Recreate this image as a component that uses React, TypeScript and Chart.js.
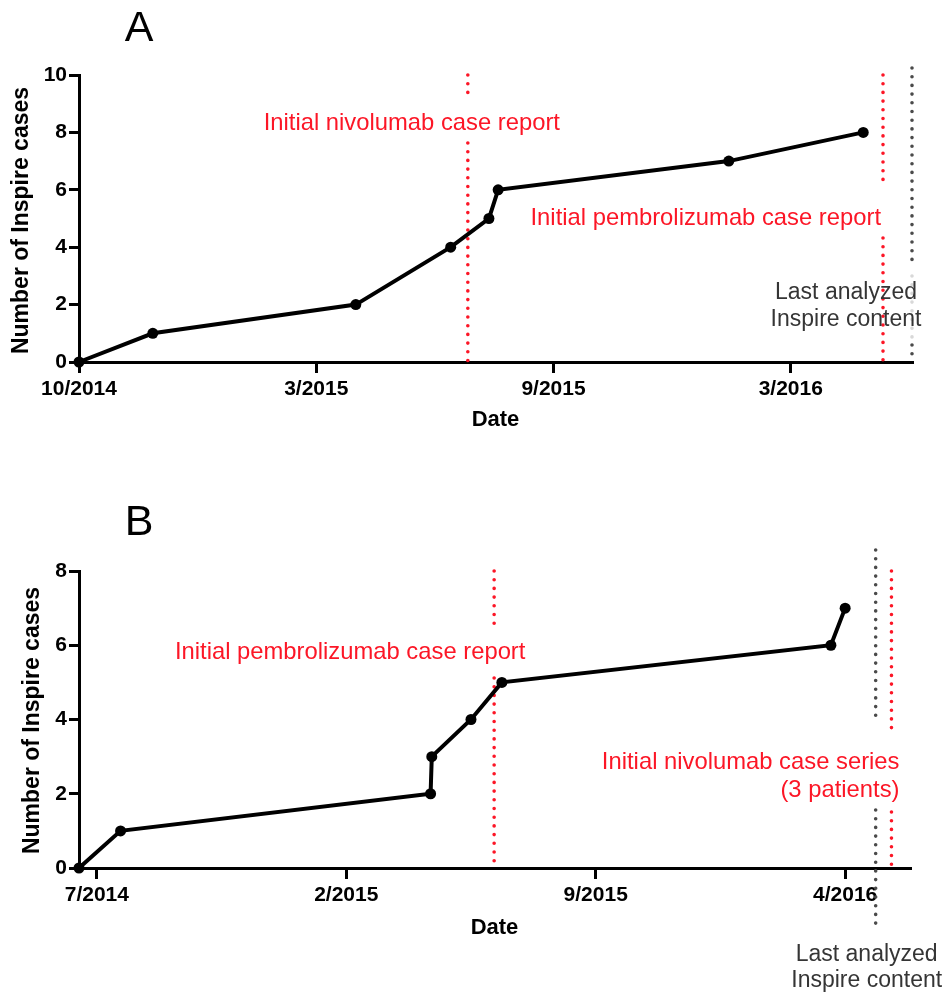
import React, { useEffect, useRef } from "react";
import { Chart, registerables } from "chart.js";

Chart.register(...registerables);

// ---------- Panel A data ----------
const aDays = [0, 56, 210, 282, 311, 318, 493, 595];
const aCases = [0, 1, 2, 4, 5, 6, 7, 8];
const aTickDays = [0, 180, 360, 540];
const aTickLabels = ["10/2014", "3/2015", "9/2015", "3/2016"];
const aNivoReportDay = 295;
const aPembroReportDay = 610;
const aLastContentDay = 632;

// ---------- Panel B data ----------
const bDays = [-15, 20, 281, 282, 315, 341, 618, 630];
const bCases = [0, 1, 2, 3, 4, 5, 6, 7];
const bTickDays = [0, 210, 420, 630];
const bTickLabels = ["7/2014", "2/2015", "9/2015", "4/2016"];
const bPembroReportDay = 334.5;
const bLastContentDay = 655.7;
const bNivoSeriesDay = 669;

const FONT = "'Liberation Sans', Arial, Helvetica, sans-serif";
const RED = "rgb(252,22,38)";
const GRAY = "#353535";
const DOTGRAY = "#4a4a4a";
const W = 947;

function dotted(ctx: CanvasRenderingContext2D, x: number, y1: number, y2: number, color: string) {
  ctx.save();
  ctx.strokeStyle = color;
  ctx.lineWidth = 3.6;
  ctx.lineCap = "round";
  ctx.setLineDash([0, 8.7]);
  ctx.beginPath();
  ctx.moveTo(x, y1);
  ctx.lineTo(x, y2);
  ctx.stroke();
  ctx.restore();
}

function txt(
  ctx: CanvasRenderingContext2D,
  s: string,
  x: number,
  y: number,
  font: string,
  color: string,
  align: CanvasTextAlign = "center",
  rotate = 0
) {
  ctx.save();
  ctx.font = font;
  ctx.fillStyle = color;
  ctx.textAlign = align;
  ctx.textBaseline = "middle";
  ctx.translate(x, y);
  if (rotate) ctx.rotate(rotate);
  ctx.fillText(s, 0, 0);
  ctx.restore();
}

function baseOptions(opts: {
  H: number;
  top: number;
  bottom: number;
  right: number;
  xMin: number;
  xMax: number;
  yMax: number;
  tickDays: number[];
  tickLabels: string[];
}): any {
  return {
    responsive: false,
    animation: false,
    devicePixelRatio: 1,
    layout: { padding: { left: 0, top: opts.top, right: W - opts.right, bottom: 0 } },
    plugins: { legend: { display: false }, tooltip: { enabled: false }, title: { display: false } },
    scales: {
      x: {
        type: "linear",
        min: opts.xMin,
        max: opts.xMax,
        afterFit: (s: any) => {
          s.height = opts.H - opts.bottom;
        },
        afterBuildTicks: (s: any) => {
          s.ticks = opts.tickDays.map((v) => ({ value: v }));
        },
        ticks: {
          callback: (_v: any, i: number) => opts.tickLabels[i] ?? "",
          font: { family: FONT, size: 21, weight: "bold" },
          color: "#000",
          maxRotation: 0,
          autoSkip: false,
          padding: 4,
        },
        grid: {
          display: true,
          drawOnChartArea: false,
          drawTicks: true,
          tickLength: 11,
          lineWidth: 3,
          color: "#000",
        },
        border: { display: true, width: 3, color: "#000" },
      },
      y: {
        min: 0,
        max: opts.yMax,
        afterFit: (s: any) => {
          s.width = 79;
        },
        ticks: {
          stepSize: 2,
          font: { family: FONT, size: 21, weight: "bold" },
          color: "#000",
          padding: 2,
        },
        grid: {
          display: true,
          drawOnChartArea: false,
          drawTicks: true,
          tickLength: 10,
          lineWidth: 3,
          color: "#000",
        },
        border: { display: true, width: 3, color: "#000" },
      },
    },
  };
}

function lineDataset(days: number[], cases: number[]) {
  return {
    data: days.map((d, i) => ({ x: d, y: cases[i] })),
    borderColor: "#000",
    borderWidth: 4,
    pointRadius: 5.5,
    pointBackgroundColor: "#000",
    pointBorderColor: "#000",
    pointBorderWidth: 0,
    tension: 0,
    clip: false,
  };
}

function PanelA() {
  const ref = useRef<HTMLCanvasElement>(null);
  useEffect(() => {
    const H = 460;
    const top = 75;
    const bottom = 362;
    const annot = {
      id: "annotA",
      beforeDatasetsDraw(chart: any) {
        const { ctx, chartArea, scales } = chart;
        const t = chartArea.top;
        const b = chartArea.bottom;
        const nx = scales.x.getPixelForValue(aNivoReportDay);
        dotted(ctx, nx, t, t + 20, RED);
        dotted(ctx, nx, t + 68, b, RED);
        const px = scales.x.getPixelForValue(aPembroReportDay);
        dotted(ctx, px, t, t + 113, RED);
        dotted(ctx, px, t + 163, b, RED);
        const gx = scales.x.getPixelForValue(aLastContentDay);
        dotted(ctx, gx, t - 7, t + 193, DOTGRAY);
        dotted(ctx, gx, t + 201, t + 262, "#d8d8d8");
        dotted(ctx, gx, t + 270, b, DOTGRAY);
      },
      afterDraw(chart: any) {
        const { ctx, chartArea, scales } = chart;
        const t = chartArea.top;
        const b = chartArea.bottom;
        const nx = scales.x.getPixelForValue(aNivoReportDay);
        const px = scales.x.getPixelForValue(aPembroReportDay);
        const gx = scales.x.getPixelForValue(aLastContentDay);
        txt(ctx, "A", 139, 29, `43px ${FONT}`, "#000");
        txt(ctx, "Initial nivolumab case report", nx - 56, t + 48, `23.8px ${FONT}`, RED);
        txt(ctx, "Initial pembrolizumab case report", px - 2, t + 143, `23.8px ${FONT}`, RED, "right");
        txt(ctx, "Last analyzed", gx - 66, t + 218, `23px ${FONT}`, GRAY);
        txt(ctx, "Inspire content", gx - 66, t + 245, `23px ${FONT}`, GRAY);
        txt(ctx, "Date", (chartArea.left + chartArea.right) / 2 + 0, b + 58, `bold 22px ${FONT}`, "#000");
        txt(ctx, "Number of Inspire cases", 22, (t + b) / 2 + 2, `bold 23px ${FONT}`, "#000", "center", -Math.PI / 2);
      },
    };
    const chart = new Chart(ref.current!, {
      type: "line",
      data: { datasets: [lineDataset(aDays, aCases) as any] },
      options: baseOptions({
        H,
        top,
        bottom,
        right: 912,
        xMin: 0,
        xMax: aLastContentDay,
        yMax: 10,
        tickDays: aTickDays,
        tickLabels: aTickLabels,
      }),
      plugins: [annot],
    });
    return () => chart.destroy();
  }, []);
  return (
    <canvas
      ref={ref}
      width={W}
      height={460}
      style={{ position: "absolute", left: 0, top: 0, width: W, height: 460, display: "block" }}
    />
  );
}

function PanelB() {
  const ref = useRef<HTMLCanvasElement>(null);
  useEffect(() => {
    const H = 534;
    const top = 111;
    const bottom = 408;
    const annot = {
      id: "annotB",
      beforeDatasetsDraw(chart: any) {
        const { ctx, chartArea, scales } = chart;
        const t = chartArea.top;
        const b = chartArea.bottom;
        const px = scales.x.getPixelForValue(bPembroReportDay);
        dotted(ctx, px, t, t + 55, RED);
        dotted(ctx, px, t + 107, b, RED);
        const gx = scales.x.getPixelForValue(bLastContentDay);
        dotted(ctx, gx, t - 21, t + 150, DOTGRAY);
        dotted(ctx, gx, t + 239, b + 56, DOTGRAY);
        const nx = scales.x.getPixelForValue(bNivoSeriesDay);
        dotted(ctx, nx, t, t + 162, RED);
        dotted(ctx, nx, t + 241, b, RED);
      },
      afterDraw(chart: any) {
        const { ctx, chartArea, scales } = chart;
        const t = chartArea.top;
        const b = chartArea.bottom;
        const px = scales.x.getPixelForValue(bPembroReportDay);
        const gx = scales.x.getPixelForValue(bLastContentDay);
        const nx = scales.x.getPixelForValue(bNivoSeriesDay);
        txt(ctx, "B", 139, 63, `43px ${FONT}`, "#000");
        txt(ctx, "Initial pembrolizumab case report", px - 144, t + 81, `23.8px ${FONT}`, RED);
        txt(ctx, "Initial nivolumab case series", nx + 8, t + 191, `23.8px ${FONT}`, RED, "right");
        txt(ctx, "(3 patients)", nx + 8, t + 219, `23.8px ${FONT}`, RED, "right");
        txt(ctx, "Last analyzed", gx - 9, b + 87, `23px ${FONT}`, GRAY);
        txt(ctx, "Inspire content", gx - 9, b + 113, `23px ${FONT}`, GRAY);
        txt(ctx, "Date", (chartArea.left + chartArea.right) / 2 + 0, b + 60, `bold 22px ${FONT}`, "#000");
        txt(ctx, "Number of Inspire cases", 33, (t + b) / 2 + 1, `bold 23px ${FONT}`, "#000", "center", -Math.PI / 2);
      },
    };
    const chart = new Chart(ref.current!, {
      type: "line",
      data: { datasets: [lineDataset(bDays, bCases) as any] },
      options: baseOptions({
        H,
        top,
        bottom,
        right: 910,
        xMin: -15,
        xMax: 684.6,
        yMax: 8,
        tickDays: bTickDays,
        tickLabels: bTickLabels,
      }),
      plugins: [annot],
    });
    return () => chart.destroy();
  }, []);
  return (
    <canvas
      ref={ref}
      width={W}
      height={534}
      style={{ position: "absolute", left: 0, top: 460, width: W, height: 534, display: "block" }}
    />
  );
}

export default function App() {
  return (
    <div style={{ position: "absolute", left: 0, top: 0, width: W, height: 994, background: "#fff" }}>
      <PanelA />
      <PanelB />
    </div>
  );
}
